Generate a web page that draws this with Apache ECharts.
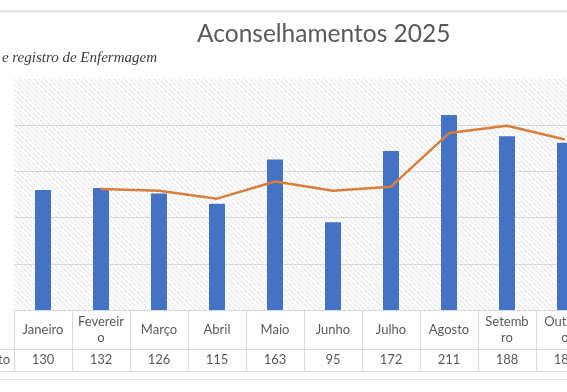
<!DOCTYPE html>
<html>
<head>
<meta charset="utf-8">
<script src="https://cdn.jsdelivr.net/npm/echarts@6/dist/echarts.min.js"></script>
<style>
html,body{margin:0;padding:0;background:#fff;overflow:hidden;width:567px;height:392px;}
#chart{position:absolute;left:0;top:0;width:620px;height:392px;}
</style>
</head>
<body>
<div id="chart"></div>
<script>
// ---- data ----
const months = ['Janeiro','Fevereiro','Março','Abril','Maio','Junho','Julho','Agosto','Setembro','Outubro'];
const monthLabels = ['Janeiro','Fevereir\no','Março','Abril','Maio','Junho','Julho','Agosto','Setemb\nro','Outubr\no'];
const counts = [130,132,126,115,163,95,172,211,188,181];
// 2-period moving average trendline
const movingAvg = [null,131,129,120.5,139,129,133.5,191.5,199.5,184.5];
const yTicks = [0,50,100,150,200,250];

// hatched plot background pattern
const pc = document.createElement('canvas');
pc.width = 5; pc.height = 5;
const g = pc.getContext('2d');
g.fillStyle = '#ffffff'; g.fillRect(0,0,5,5);
g.strokeStyle = '#dedede'; g.lineWidth = 1;
g.beginPath();
g.moveTo(-1,-1); g.lineTo(6,6);
g.moveTo(-1,4); g.lineTo(1,6);
g.moveTo(4,-1); g.lineTo(6,1);
g.stroke();

const txt = '#595959';
const border = '#d9d9d9';
const chart = echarts.init(document.getElementById('chart'), null, {renderer:'canvas'});
chart.setOption({
  backgroundColor:'#ffffff',
  animation:false,
  title:{
    text:'Aconselhamentos 2025',
    left:197, top:22, padding:0,
    textStyle:{fontFamily:'Lato, "Open Sans", sans-serif', fontSize:24.5, fontWeight:'normal', color:txt}
  },
  grid:{left:14, right:26, top:79, bottom:82, show:true, borderWidth:0,
        backgroundColor:{image:pc, repeat:'repeat'}},
  xAxis:[
    {type:'category', data:monthLabels, position:'bottom',
     axisLine:{show:true, lineStyle:{color:border, width:1}},
     axisTick:{show:true, length:61, lineStyle:{color:border, width:1}},
     axisLabel:{interval:0, margin:20, verticalAlign:'middle', lineHeight:16,
                fontFamily:'Lato, "Open Sans", sans-serif', fontSize:13, color:txt}},
    {type:'category', data:months, position:'bottom', offset:39,
     axisLine:{show:true, lineStyle:{color:border, width:1}},
     axisTick:{show:false},
     axisLabel:{interval:0, margin:11, verticalAlign:'middle',
                formatter:(v,i)=>String(counts[i]),
                fontFamily:'Lato, "Open Sans", sans-serif', fontSize:13, color:txt}},
    {type:'category', data:months, position:'bottom', offset:61,
     axisLine:{show:true, lineStyle:{color:border, width:1}},
     axisTick:{show:false}, axisLabel:{show:false}}
  ],
  yAxis:{type:'value', min:yTicks[0], max:yTicks[yTicks.length-1], interval:50,
    axisLine:{show:false}, axisTick:{show:false}, axisLabel:{show:false},
    splitLine:{show:true, lineStyle:{color:[border,border,border,border,border,'rgba(0,0,0,0)'], width:1}}},
  series:[
    {type:'bar', name:'Aconselhamentos', data:counts, xAxisIndex:0, barWidth:16,
     itemStyle:{color:'#4472C4'}},
    {type:'line', name:'Média móvel', data:movingAvg, xAxisIndex:0, symbol:'none',
     lineStyle:{color:'#DB7D3A', width:2.5}, z:5}
  ],
  graphic:[
    {type:'line', shape:{x1:0,y1:11.5,x2:620,y2:11.5}, style:{stroke:'#d9d9d9', lineWidth:1.5}},
    {type:'line', shape:{x1:0,y1:379.5,x2:620,y2:379.5}, style:{stroke:'#e3e3e3', lineWidth:1}},
    {type:'line', shape:{x1:0,y1:349.5,x2:14,y2:349.5}, style:{stroke:border, lineWidth:1}},
    {type:'line', shape:{x1:0,y1:371.5,x2:14,y2:371.5}, style:{stroke:border, lineWidth:1}},
    {type:'text', x:10, y:360, style:{text:'to', align:'right', verticalAlign:'middle',
      font:'13px Lato, "Open Sans", sans-serif', fill:txt}},
    {type:'text', x:157, y:58, style:{text:'e registro de Enfermagem', align:'right', verticalAlign:'middle',
      font:'italic 15px "Liberation Serif", "DejaVu Serif", serif', fill:'#3a3a3a'}}
  ]
});
</script>
</body>
</html>
